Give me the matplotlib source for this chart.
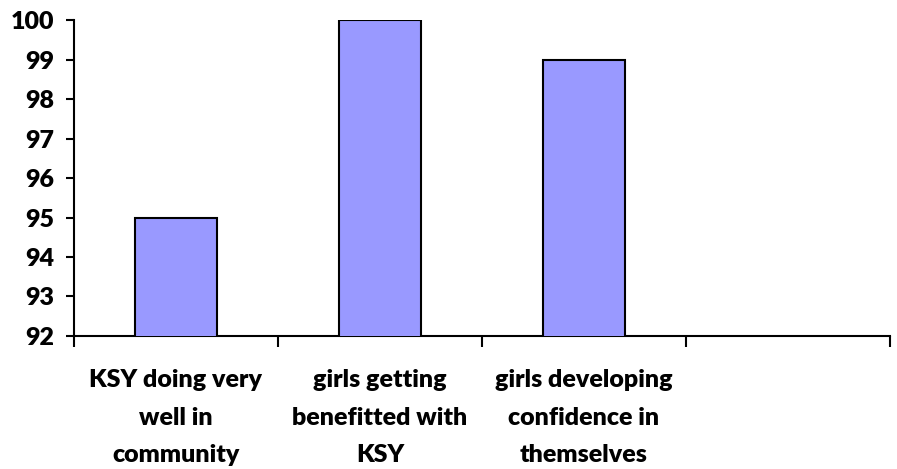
import numpy as np
import matplotlib.pyplot as plt

categories = ["KSY doing very\nwell in\ncommunity",
              "girls getting\nbenefitted with\nKSY",
              "girls developing\nconfidence in\nthemselves",
              ""]
values = [95, 100, 99, np.nan]

plt.rcParams['font.family'] = ['Lato', 'DejaVu Sans']
plt.rcParams['font.weight'] = 'heavy'

fig = plt.figure(figsize=(8.97, 4.69), dpi=100)
ax = fig.add_axes([0.0825, 0.2836, 0.9095, 0.6737])

x = np.arange(len(categories))
ax.bar(x, values, width=0.4, color='#9999FF', edgecolor='black', linewidth=1.5, zorder=3)

ax.set_xlim(-0.5, len(categories) - 0.5)
ax.set_ylim(92, 100)
ax.set_yticks(range(92, 101))
ax.tick_params(axis='y', labelsize=18, length=6, width=1.5, pad=8)

ax.set_xticks(x)
ax.set_xticklabels(categories, fontsize=18, fontweight='heavy', linespacing=1.85)
ax.tick_params(axis='x', length=0, pad=24)
ax.set_xticks(np.arange(-0.5, len(categories)), minor=True)
ax.tick_params(axis='x', which='minor', length=8, width=1.5)

for s in ['top', 'right']:
    ax.spines[s].set_visible(False)
for s in ['left', 'bottom']:
    ax.spines[s].set_linewidth(1.5)

fig.savefig('out.png', dpi=100)
